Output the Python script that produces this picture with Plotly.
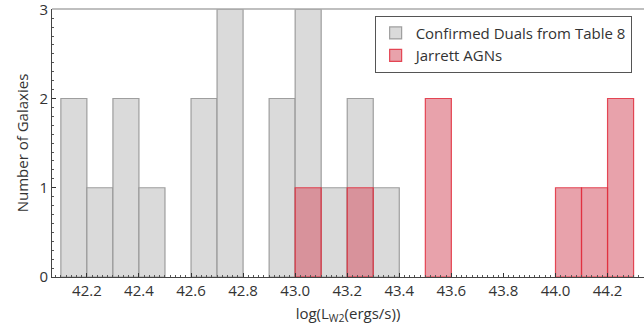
import plotly.graph_objects as go

bin_width = 0.1
dual_bin_starts = [42.1, 42.2, 42.3, 42.4, 42.6, 42.7, 42.9, 43.0, 43.1, 43.2, 43.3]
dual_counts = [2, 1, 2, 1, 2, 3, 2, 3, 1, 2, 1]
agn_bin_starts = [43.0, 43.2, 43.5, 44.0, 44.1, 44.2]
agn_counts = [1, 1, 2, 1, 1, 2]
x_tick_vals = [42.2, 42.4, 42.6, 42.8, 43.0, 43.2, 43.4, 43.6, 43.8, 44.0, 44.2]
y_tick_vals = [0, 1, 2, 3]

FONT = "Open Sans"

fig = go.Figure()
fig.add_trace(go.Bar(
    x=[s + bin_width / 2 for s in dual_bin_starts], y=dual_counts, width=bin_width,
    name="Confirmed Duals from Table 8",
    marker=dict(color="rgba(218,218,218,1)", line=dict(color="rgba(150,150,150,0.9)", width=1.2)),
))
fig.add_trace(go.Bar(
    x=[s + bin_width / 2 for s in agn_bin_starts], y=agn_counts, width=bin_width,
    name="Jarrett AGNs",
    marker=dict(color="rgba(215,95,110,0.58)", line=dict(color="rgba(225,45,60,0.85)", width=1.2)),
))

fig.update_layout(
    width=644, height=331, barmode="overlay",
    margin=dict(l=52, r=0, t=9, b=54),
    paper_bgcolor="white", plot_bgcolor="white",
    font=dict(family=FONT, size=15, color="#333333"),
    showlegend=True,
    legend=dict(x=0.545, y=0.975, xanchor="left", yanchor="top",
                bordercolor="#555555", borderwidth=1, bgcolor="white",
                font=dict(size=15, color="#333333"), tracegroupgap=0,
                itemwidth=30),
    xaxis=dict(range=[42.066, 44.34], tickvals=x_tick_vals,
               tickformat=".1f", ticks="inside", ticklen=4, tickcolor="#333",
               minor=dict(ticks="inside", ticklen=2, dtick=0.02, tickcolor="#555"),
               showgrid=False, zeroline=False, showline=True, linecolor="#444",
               linewidth=1, mirror=False,
               title=dict(text="log(L<sub>W2</sub>(ergs/s))", standoff=9, font=dict(size=15)),
               tickfont=dict(size=15)),
    yaxis=dict(range=[0, 3.003], tickvals=y_tick_vals, ticks="inside", ticklen=4,
               tickcolor="#333", ticklabeloverflow="allow",
               minor=dict(ticks="inside", ticklen=2, dtick=0.1, tickcolor="#555"),
               showgrid=False, zeroline=False, showline=True, linecolor="#444",
               linewidth=1,
               title=dict(text="Number of Galaxies", standoff=7, font=dict(size=15)),
               tickfont=dict(size=15)),
)
# top frame line
fig.add_shape(type="line", xref="paper", yref="paper", x0=0, x1=1, y0=1, y1=1,
              line=dict(color="#aaaaaa", width=1.5))

fig.write_html("out.html")
